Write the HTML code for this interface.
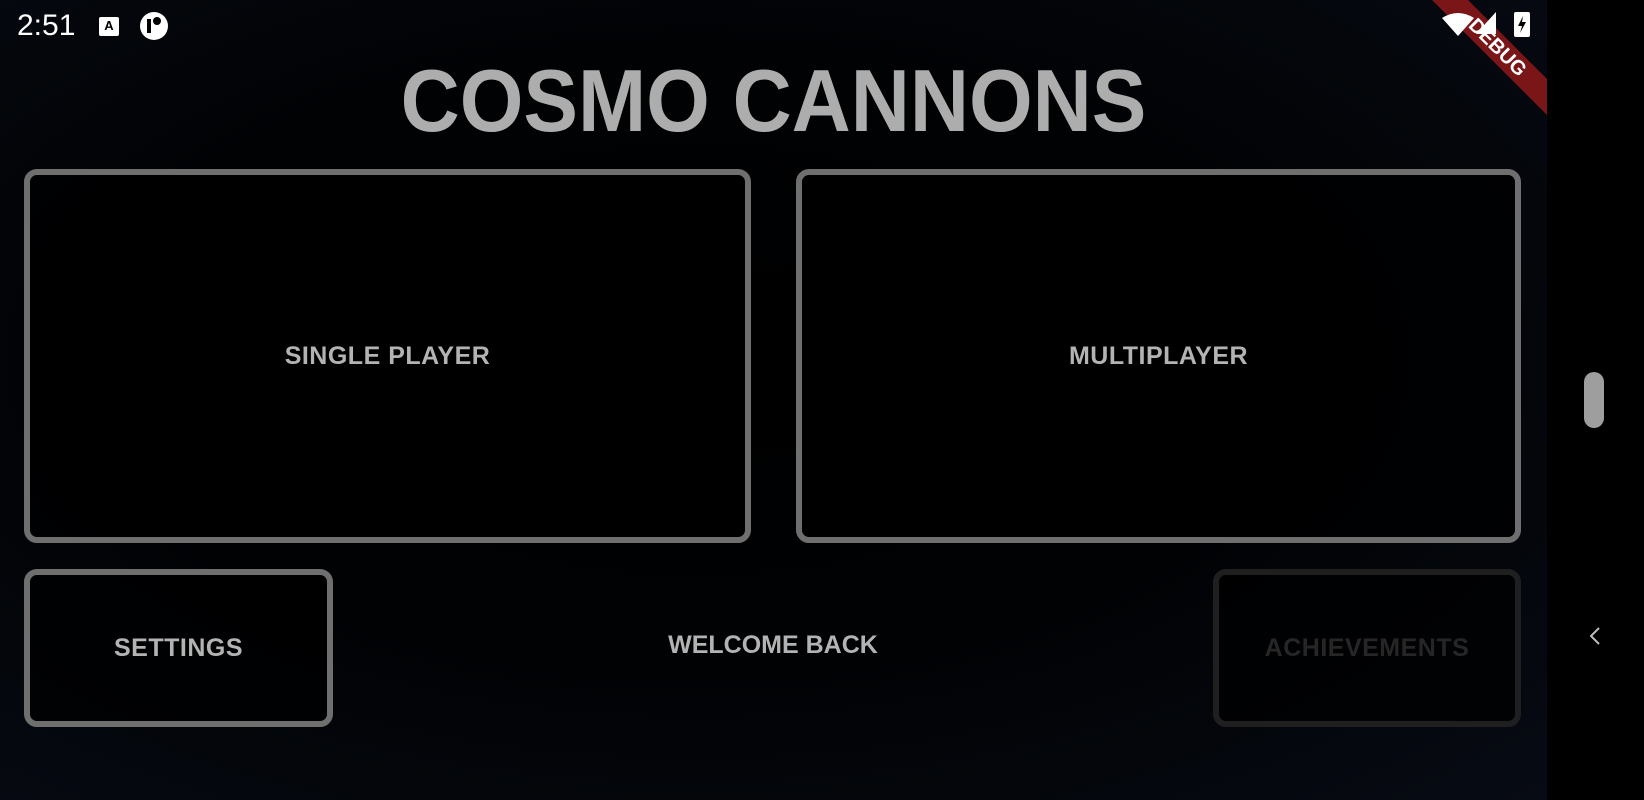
<!DOCTYPE html>
<html><head><meta charset="utf-8"><style>
html,body{margin:0;padding:0}
body{width:1644px;height:800px;position:relative;overflow:hidden;background:#000;font-family:"Liberation Sans",sans-serif}
#app{position:absolute;left:0;top:0;width:1547px;height:800px;overflow:hidden;
background:radial-gradient(ellipse at 45% 45%,#000 0%,#010204 50%,#070b14 100%)}
.box{position:absolute;box-sizing:border-box;border:6px solid #6f6f6f;border-radius:13px;display:flex;align-items:center;justify-content:center;color:#b3b3b3;font-weight:bold;font-size:25px;letter-spacing:0.5px;background:rgba(0,0,0,0.7)}
.t{position:absolute;color:#b3b3b3;font-weight:bold}
</style></head><body>
<div id="app">
 <div class="t" style="left:0;width:1547px;text-align:center;top:50px;font-size:88px;color:#adadad;letter-spacing:0px;transform:scaleX(0.93)">COSMO CANNONS</div>
 <div class="box" style="left:24px;top:169px;width:727px;height:374px">SINGLE PLAYER</div>
 <div class="box" style="left:796px;top:169px;width:725px;height:374px">MULTIPLAYER</div>
 <div class="box" style="left:24px;top:569px;width:309px;height:158px">SETTINGS</div>
 <div class="box" style="left:1213px;top:569px;width:308px;height:158px;border-color:#1f1f1f;color:#262626">ACHIEVEMENTS</div>
 <div class="t" style="left:573px;width:400px;text-align:center;top:631px;font-size:25px">WELCOME BACK</div>
 <div style="position:absolute;left:17px;top:9px;color:#fff;font-size:30px">2:51</div>
 <div style="position:absolute;left:99px;top:17px;width:20px;height:19px;background:#fff;border-radius:2px;color:#000;font-size:13px;font-weight:bold;text-align:center;line-height:17px">A</div>
 <div style="position:absolute;left:140px;top:12px;width:28px;height:28px;background:#fff;border-radius:50%"><div style="position:absolute;left:7px;top:7px;width:4px;height:14px;background:#000"></div><div style="position:absolute;left:13px;top:5px;width:8px;height:8px;background:#000;border-radius:50%"></div></div>
 <svg style="position:absolute;left:1380px;top:0" width="167" height="130">
  <polygon points="52,0 88,0 167,79 167,115" fill="#7a1518"/>
  <path d="M62 18 Q78 8 94 18 L78 36 Z" fill="#fff"/>
  <path d="M116 12 L116 34 L96 34 Z" fill="#fff"/>
  <rect x="134" y="12" width="16" height="25" rx="2" fill="#fff"/>
  <path d="M143 16 L138 26 L142 26 L140 33 L146 22 L142 22 Z" fill="#000"/>
  <text x="118" y="54" transform="rotate(45 118 47)" text-anchor="middle" font-family="Liberation Sans" font-weight="bold" font-size="20" fill="#fff">DEBUG</text>
 </svg>
</div>
<div style="position:absolute;left:1584px;top:372px;width:20px;height:56px;background:#9e9e9e;border-radius:10px"></div>
<svg style="position:absolute;left:1586px;top:625px" width="20" height="22"><path d="M13 3 L5 11 L13 19" fill="none" stroke="#bbb" stroke-width="2"/></svg>
</body></html>
